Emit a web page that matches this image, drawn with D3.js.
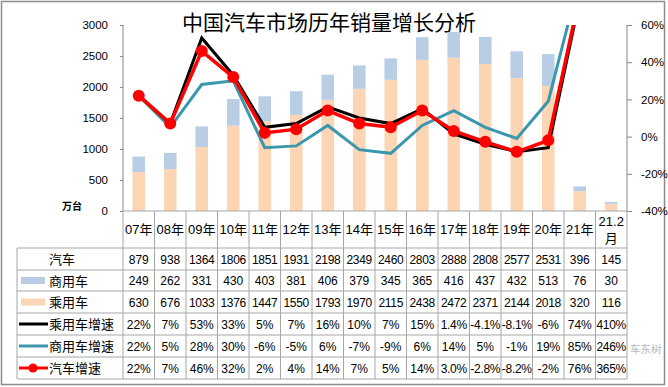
<!DOCTYPE html>
<html>
<head>
<meta charset="utf-8">
<script src="https://cdn.jsdelivr.net/npm/d3@7/dist/d3.min.js"></script>
<style>
  body { margin: 0; background: #fff; }
  text { font-family: "Liberation Sans", Arial, "Noto Sans CJK SC", sans-serif; }
  .cjk { font-family: "Noto Sans CJK SC", sans-serif; }
</style>
</head>
<body>
<div id="chart"></div>
<script>
// data
var years = ["07年","08年","09年","10年","11年","12年","13年","14年","15年","16年","17年","18年","19年","20年","21年","21.2月"];
var total = [879,938,1364,1806,1851,1931,2198,2349,2460,2803,2888,2808,2577,2531,396,145];
var commercial = [249,262,331,430,403,381,406,379,345,365,416,437,432,513,76,30];
var passenger = [630,676,1033,1376,1447,1550,1793,1970,2115,2438,2472,2371,2144,2018,320,116];
var passengerGrowth = ["22%","7%","53%","33%","5%","7%","16%","10%","7%","15%","1.4%","-4.1%","-8.1%","-6%","74%","410%"];
var commercialGrowth = ["22%","5%","28%","30%","-6%","-5%","6%","-7%","-9%","6%","14%","5%","-1%","19%","85%","246%"];
var totalGrowth = ["22%","7%","46%","32%","2%","4%","14%","7%","5%","14%","3.0%","-2.8%","-8.2%","-2%","76%","365%"];
var leftTicks = [0,500,1000,1500,2000,2500,3000];
var rightTicks = [-40,-20,0,20,40,60];

var W = 668, H = 387;
var plot = {left: 123, right: 627, top: 25, bottom: 211};
var rowY = [248, 270, 291, 313, 335, 357, 379];
var gridColor = "#a6a6a6";

var svg = d3.select('#chart').append('svg')
  .attr('width', W).attr('height', H);

// frame
svg.append('rect')
  .attr('x', 1.5).attr('y', 1.5).attr('width', 663).attr('height', 383)
  .attr('fill', '#fff').attr('stroke', '#8c8c8c').attr('stroke-width', 1.5);

var x = d3.scaleBand().domain(years).range([plot.left, plot.right]);
var yL = d3.scaleLinear().domain([0, 3000]).range([plot.bottom, plot.top]);
var yR = d3.scaleLinear().domain([-40, 60]).range([plot.bottom, plot.top]);
var barW = x.bandwidth() * 0.4;

// title
svg.append('text').attr('class', 'cjk')
  .attr('x', 329).attr('y', 30).attr('text-anchor', 'middle')
  .attr('font-size', 21).attr('fill', '#000')
  .text('中国汽车市场历年销量增长分析');

// stacked bars
var bars = svg.append('g');
bars.selectAll('rect.pass').data(years).enter().append('rect')
  .attr('x', function(d){ return x(d) + (x.bandwidth() - barW) / 2; })
  .attr('width', barW)
  .attr('y', function(d, i){ return yL(passenger[i]); })
  .attr('height', function(d, i){ return yL(0) - yL(passenger[i]); })
  .attr('fill', '#fcd5b5');
bars.selectAll('rect.comm').data(years).enter().append('rect')
  .attr('x', function(d){ return x(d) + (x.bandwidth() - barW) / 2; })
  .attr('width', barW)
  .attr('y', function(d, i){ return yL(passenger[i] + commercial[i]); })
  .attr('height', function(d, i){ return yL(passenger[i]) - yL(passenger[i] + commercial[i]); })
  .attr('fill', '#b9cde5');

// axes
var axL = svg.append('g').attr('transform', 'translate(' + plot.left + ',0)')
  .call(d3.axisLeft(yL).tickValues(leftTicks).tickSize(3).tickPadding(12)
    .tickFormat(d3.format('d')));
var axR = svg.append('g').attr('transform', 'translate(' + plot.right + ',0)')
  .call(d3.axisRight(yR).tickValues(rightTicks).tickSize(5).tickPadding(9)
    .tickFormat(function(d){ return d + '%'; }));
[axL, axR].forEach(function(ax){
  ax.selectAll('path, line').attr('stroke', '#868686');
  ax.selectAll('text').attr('font-size', 11.5).attr('fill', '#000');
});
axL.select('.domain').attr('d', 'M0,' + plot.top + 'V' + plot.bottom);
axR.select('.domain').attr('d', 'M0,' + plot.top + 'V' + plot.bottom);

svg.append('text').attr('class', 'cjk')
  .attr('x', 72).attr('y', 210).attr('text-anchor', 'middle')
  .attr('font-size', 10).attr('font-weight', 'bold')
  .text('万台');

// growth lines, clipped to the plot area
svg.append('clipPath').attr('id', 'plotClip').append('rect')
  .attr('x', plot.left).attr('y', plot.top)
  .attr('width', plot.right - plot.left).attr('height', plot.bottom - plot.top);
var lines = svg.append('g').attr('clip-path', 'url(#plotClip)');
var line = d3.line()
  .x(function(d, i){ return x(years[i]) + x.bandwidth() / 2; })
  .y(function(d){ return yR(parseFloat(d)); });

lines.append('path').datum(commercialGrowth).attr('d', line)
  .attr('fill', 'none').attr('stroke', '#3a97ad').attr('stroke-width', 3);
lines.append('path').datum(passengerGrowth).attr('d', line)
  .attr('fill', 'none').attr('stroke', '#000').attr('stroke-width', 3);
lines.append('path').datum(totalGrowth).attr('d', line)
  .attr('fill', 'none').attr('stroke', '#ff0000').attr('stroke-width', 3.5);
lines.selectAll('circle').data(totalGrowth).enter().append('circle')
  .attr('cx', function(d, i){ return x(years[i]) + x.bandwidth() / 2; })
  .attr('cy', function(d){ return yR(parseFloat(d)); })
  .attr('r', 6).attr('fill', '#ff0000');

// data table
var table = svg.append('g');
table.append('line')
  .attr('x1', plot.left).attr('x2', plot.right).attr('y1', plot.bottom).attr('y2', plot.bottom)
  .attr('stroke', gridColor);
rowY.forEach(function(y){
  table.append('line').attr('x1', 17).attr('x2', plot.right).attr('y1', y).attr('y2', y)
    .attr('stroke', gridColor);
});
table.append('line').attr('x1', 17).attr('x2', 17).attr('y1', rowY[0]).attr('y2', rowY[6])
  .attr('stroke', gridColor);
years.concat([null]).forEach(function(d, i){
  var xx = i < years.length ? x(d) : plot.right;
  table.append('line').attr('x1', xx).attr('x2', xx).attr('y1', plot.bottom).attr('y2', rowY[6])
    .attr('stroke', gridColor);
});

// header row
years.forEach(function(d){
  var cx = x(d) + x.bandwidth() / 2;
  if (d.indexOf('月') > 0) {
    table.append('text').attr('x', cx).attr('y', 226).attr('text-anchor', 'middle')
      .attr('font-size', 13).text(d.replace('月', ''));
    table.append('text').attr('class', 'cjk').attr('x', cx).attr('y', 243).attr('text-anchor', 'middle')
      .attr('font-size', 13).text('月');
  } else {
    table.append('text').attr('x', cx).attr('y', 234).attr('text-anchor', 'middle')
      .attr('font-size', 13).text(d);
  }
});

var rows = [
  {label: '汽车', values: total, key: null},
  {label: '商用车', values: commercial, key: 'swatch', color: '#b9cde5'},
  {label: '乘用车', values: passenger, key: 'swatch', color: '#fcd5b5'},
  {label: '乘用车增速', values: passengerGrowth, key: 'line', color: '#000'},
  {label: '商用车增速', values: commercialGrowth, key: 'line', color: '#3a97ad'},
  {label: '汽车增速', values: totalGrowth, key: 'marker', color: '#ff0000'}
];
rows.forEach(function(r, ri){
  var cy = (rowY[ri] + rowY[ri + 1]) / 2;
  if (r.key === null) {
    table.append('text').attr('class', 'cjk').attr('x', 62).attr('y', cy + 5)
      .attr('text-anchor', 'middle').attr('font-size', 13).text(r.label);
  } else {
    if (r.key === 'swatch') {
      table.append('rect').attr('x', 21).attr('y', cy - 3.5).attr('width', 24).attr('height', 7)
        .attr('fill', r.color);
    } else {
      table.append('line').attr('x1', 19).attr('x2', 48).attr('y1', cy).attr('y2', cy)
        .attr('stroke', r.color).attr('stroke-width', 3);
      if (r.key === 'marker') {
        table.append('circle').attr('cx', 33).attr('cy', cy).attr('r', 4.5).attr('fill', r.color);
      }
    }
    table.append('text').attr('class', 'cjk').attr('x', 49).attr('y', cy + 5)
      .attr('font-size', 13).text(r.label);
  }
  r.values.forEach(function(v, i){
    table.append('text').attr('x', x(years[i]) + x.bandwidth() / 2).attr('y', cy + 4.5)
      .attr('text-anchor', 'middle').attr('font-size', 12)
      .attr('letter-spacing', String(v).length > 3 ? -0.3 : 0).text(v);
  });
});

// watermark
svg.append('text').attr('class', 'cjk')
  .attr('x', 630).attr('y', 353).attr('font-size', 10.5)
  .attr('fill', '#999').attr('opacity', 0.7).text('车东树');
</script>
</body>
</html>
